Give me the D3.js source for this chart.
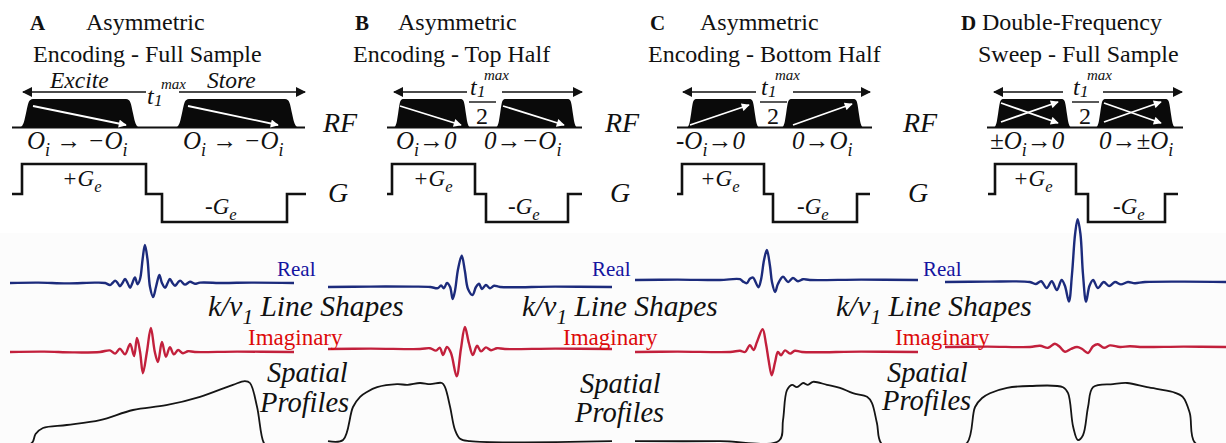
<!DOCTYPE html>
<html>
<head>
<meta charset="utf-8">
<script src="https://cdn.jsdelivr.net/npm/d3@7"></script>
<style>
  body { margin: 0; background: #fff; }
  svg { display: block; }
  svg text { font-family: 'Liberation Serif', 'Tinos', 'DejaVu Serif', serif; fill: #111; }
</style>
</head>
<body>
<svg id="fig" width="1226" height="443"></svg>
<script>
// ---------- values ----------
const panelIds = ["A", "B", "C", "D"];
const titleLine1 = ["Asymmetric", "Asymmetric", "Asymmetric", "Double-Frequency"];
const titleLine2 = ["Encoding - Full Sample", "Encoding - Top Half", "Encoding - Bottom Half", "Sweep - Full Sample"];
const pulseLabels = [
  ["O_i \u2192 \u2212O_i", "O_i \u2192 \u2212O_i"],
  ["O_i\u21920", "0\u2192\u2212O_i"],
  ["-O_i\u21920", "0\u2192O_i"],
  ["\u00b1O_i\u21920", "0\u2192\u00b1O_i"]
];
const gradLevels = [0, 1, 0, -1, 0];

// line shapes: [k (% of trace width), amplitude]
const realA = [[0,0],[10,0.01],[20,-0.01],[30,0.01],[33.5,0],[35.2,-0.05],[36.1,0],[37,0.06],[37.9,0],[38.7,-0.08],[39.6,0],[40.5,0.1],[41.4,0],[42.3,-0.12],[43.1,0],[44,0.14],[44.9,-0.03],[45.8,0.1],[46.7,0.6],[47.5,0.95],[48.4,0.6],[49.3,-0.1],[50.4,-0.35],[51.4,-0.1],[52.6,0.2],[53.5,0],[54.6,-0.12],[55.5,0],[56.3,0.1],[57.2,0],[58.1,-0.07],[59,0],[59.9,0.06],[61.6,-0.04],[63.4,0.03],[65.1,-0.02],[66.9,0.01],[75,0],[85,0.01],[100,0]];
const imagA = [[0,0],[12,0.01],[22,-0.01],[31.7,0],[35.2,0.04],[37,-0.04],[38.7,0.08],[40.5,-0.06],[42.3,0.2],[43.7,-0.1],[44.7,0.35],[45.8,0],[46.8,-0.53],[48.2,0],[49.6,0.6],[51,0],[52.1,-0.25],[53.5,0.25],[54.9,-0.12],[56.3,0.12],[57.7,-0.06],[59.2,0.05],[60.9,-0.03],[62.7,0.02],[65.1,0],[80,0.01],[100,0]];
const realB = [[0,0],[15,0.01],[30,0.01],[36,0],[38.7,-0.03],[39.8,0.04],[40.8,-0.03],[41.9,0.1],[43,0],[43.9,-0.3],[44.7,-0.1],[45.8,0.45],[47.1,0.78],[48.2,0.4],[49.3,-0.05],[50.9,-0.2],[52.1,0],[53.2,0.08],[54.2,-0.05],[55.6,0.05],[57,-0.03],[58.5,0.03],[60.6,0],[80,0.01],[100,0]];
const imagB = [[0,0],[15,0.01],[32.4,0],[35.9,0.02],[38,-0.04],[39.4,0.03],[40.5,-0.15],[41.9,0.05],[43.3,-0.1],[45.3,-0.68],[46.8,0],[48.2,0.55],[49.6,0.15],[51,-0.15],[52.5,0.08],[53.9,-0.06],[55.6,0.04],[57.4,-0.03],[59.5,0.02],[62.3,0],[80,0.01],[100,0]];
const realC = [[0,0],[15,0.01],[30,0],[37.1,0.02],[38.2,-0.04],[39.5,-0.08],[40.6,0.03],[41.7,0.06],[43.6,-0.18],[44.5,0],[45.6,0.5],[46.6,0.75],[47.7,0.35],[48.4,-0.05],[49.5,-0.3],[50.5,-0.1],[52.3,0.08],[54.1,-0.05],[55.8,0.05],[57.6,-0.03],[59.4,0.02],[61.8,0],[80,0.01],[100,0]];
const imagC = [[0,0],[15,0.01],[33.6,0],[37.1,0.03],[38.9,0],[40.6,0.17],[41.9,0.05],[43.1,0.25],[45.1,0.57],[46.3,0.2],[47.2,-0.2],[48.3,-0.58],[49.5,-0.25],[50.5,0],[51.6,-0.08],[53,0.04],[54.8,-0.04],[56.5,0.03],[59,0],[80,0.01],[100,0]];
const realD = [[0,0],[15,0.01],[30.2,0],[32.4,-0.05],[34.2,0.02],[36.2,-0.15],[38,0.02],[39.8,-0.2],[41.5,0.05],[42.7,-0.1],[44.1,-0.49],[45.2,0.2],[46.3,1.2],[47.2,1.57],[48.2,1.2],[49.1,0.2],[50.2,-0.49],[51.4,-0.1],[52.7,0.05],[54.4,-0.15],[56.5,0],[58.4,-0.1],[60.5,0],[62.6,-0.06],[65.1,0],[67.6,-0.03],[71.2,0],[85,0.01],[100,0]];
const imagD = [[0,0],[15,0.01],[30.2,0],[33.8,0.03],[36.7,-0.02],[39.1,0.08],[40.9,0],[42.7,-0.12],[44.8,-0.05],[47,0],[48.8,-0.05],[50.9,-0.15],[52.7,0.02],[54.4,0.07],[56.6,-0.02],[58.7,0.04],[62.3,0],[65.8,0.02],[69.4,0],[85,0.01],[100,0]];

// spatial profiles: [position (% of trace width), relative intensity]
const profileA = [[0,-0.1],[7.7,0],[9,0.15],[11.6,0.25],[20,0.3],[31.7,0.38],[43.3,0.55],[55,0.63],[66.9,0.77],[78.5,0.97],[82.7,1.03],[84.5,1],[87,0.6],[89.4,0],[91,-0.05],[100,-0.05]];
const profileB = [[0,0.03],[5.3,0.05],[8.8,0.6],[11.3,0.77],[13.7,0.85],[17.3,0.93],[24.3,0.98],[28,0.97],[32.4,1],[36,0.98],[40.1,1],[41.2,0.93],[43,0.6],[44.7,0.22],[46.5,0.07],[50,0.03],[100,0.03]];
const profileC = [[0,0.03],[30,0.03],[50.9,0.04],[52.3,0.38],[53.7,0.88],[55.5,0.97],[57.2,0.93],[59.4,1],[61.1,0.97],[62.9,1.02],[67.8,0.97],[72.4,0.92],[77,0.83],[82,0.77],[83.7,0.67],[85.5,0.33],[87.3,-0.02],[100,-0.05]];
const profileD = [[0,-0.1],[7.8,0],[10.7,0.6],[13.2,0.75],[16,0.83],[22.1,0.92],[30.2,0.95],[42,0.93],[43.8,0.83],[45.6,0.27],[47.3,0.05],[49.1,0.13],[50.9,0.6],[52.7,0.93],[59.8,0.98],[64.8,1],[71.9,0.93],[81.1,0.85],[84.6,0.77],[87.1,0.5],[89,0],[100,-0.1]];

const realSeries = [realA, realB, realC, realD];
const imagSeries = [imagA, imagB, imagC, imagD];
const profileSeries = [profileA, profileB, profileC, profileD];

// ---------- layout ----------
const layout = [
  { idX: 30, t1X: 86, t2X: 33, arrow: [23, 305], gap: [146, 179], frac: false, tX: 147,
    pulses: [[20, 139], [176, 298]], ramp: 13, rf: [12, 305], grad: [12, 22, 146, 162, 287, 306],
    lab: [27, 183], plusG: 62, minusG: 205,
    arrows: [[[33,106],[126,125]], [[188,106],[278,125]]],
    trace: [10, 294], realBase: 283, imagBase: 352 },
  { idX: 355, t1X: 398, t2X: 353, arrow: [394, 582], gap: [467, 502], frac: true, tX: 482,
    pulses: [[394, 470], [496, 577]], ramp: 9, rf: [387, 582], grad: [387, 392, 475, 486, 568, 582],
    lab: [396, 484], plusG: 413, minusG: 508,
    arrows: [[[400,106],[461,125]], [[503,106],[564,125]]],
    trace: [328, 612], realBase: 287, imagBase: 349 },
  { idX: 650, t1X: 700, t2X: 648, arrow: [683, 870], gap: [756, 793], frac: true, tX: 773,
    pulses: [[687, 759], [782, 863]], ramp: 9, rf: [677, 872], grad: [677, 682, 764, 773, 857, 870],
    lab: [676, 792], plusG: 700, minusG: 797,
    arrows: [[[690,125],[749,105]], [[793,125],[852,104]]],
    trace: [635, 918], realBase: 280, imagBase: 352 },
  { idX: 961, t1X: 982, t2X: 978, arrow: [994, 1182], gap: [1063, 1103], frac: true, tX: 1085,
    pulses: [[994, 1071], [1096, 1175]], ramp: 9, rf: [987, 1183], grad: [988, 995, 1076, 1088, 1165, 1178],
    lab: [990, 1099], plusG: 1013, minusG: 1113,
    arrows: [[[1001,103],[1058,123]], [[1001,122],[1058,102]], [[1104,103],[1161,123]], [[1104,122],[1161,102]]],
    trace: [945, 1226], realBase: 282, imagBase: 347 }
];

const rfBase = 127.5, rfTop = 99;
const rampShape = [[0,0],[2,0.05],[4,0.2],[6,0.5],[8,0.82],[10,0.96],[13,1]];

const svg = d3.select("#fig");

// faint scan background of the lower half
svg.append("rect").attr("x", 0).attr("y", 233).attr("width", 1226).attr("height", 210).attr("fill", "#fcfcfc");

const defs = svg.append("defs");
[["blackHead", "#111"], ["whiteHead", "#fff"]].forEach(([id, c]) => {
  defs.append("marker")
      .attr("id", id)
      .attr("viewBox", "0 -5 10 10")
      .attr("refX", 9).attr("refY", 0)
      .attr("markerUnits", "userSpaceOnUse")
      .attr("markerWidth", id === "blackHead" ? 11 : 10)
      .attr("markerHeight", id === "blackHead" ? 10 : 8)
      .attr("orient", "auto")
    .append("path")
      .attr("d", "M0,-5L10,0L0,5Z")
      .attr("fill", c);
});

// text with _x subscripts
function rich(g, x, y, str, size, opts) {
  opts = opts || {};
  const t = g.append("text").attr("x", x).attr("y", y).attr("font-size", size);
  if (opts.italic) t.attr("font-style", "italic");
  if (opts.fill) t.style("fill", opts.fill);
  const parts = [];
  let buf = "";
  for (let i = 0; i < str.length; i++) {
    if (str[i] === "_") {
      if (buf) parts.push({ s: buf, sub: false });
      buf = "";
      parts.push({ s: str[i + 1], sub: true });
      i++;
    } else buf += str[i];
  }
  if (buf) parts.push({ s: buf, sub: false });
  let shift = 0;
  parts.forEach(p => {
    const dy = p.sub ? size * 0.28 : 0;
    const ts = t.append("tspan").text(p.s).attr("dy", dy - shift);
    if (p.sub) ts.attr("font-size", size * 0.72);
    shift = dy;
  });
  return t;
}

function t1max(g, x, y) {
  const t = g.append("text").attr("font-style", "italic");
  t.append("tspan").attr("x", x).attr("y", y).attr("font-size", 24).text("t");
  t.append("tspan").attr("x", x + 7).attr("y", y + 2).attr("font-size", 17).text("1");
  g.append("text").attr("font-style", "italic").attr("font-size", 15)
    .attr("x", x + 14).attr("y", y - 15).text("max");
}

const rampLine = d3.line().curve(d3.curveMonotoneX);

layout.forEach((L, i) => {
  const g = svg.append("g");

  // titles
  g.append("text").attr("x", L.idX).attr("y", 30).attr("font-size", 21).attr("font-weight", "bold").text(panelIds[i]);
  g.append("text").attr("x", L.t1X).attr("y", 30).attr("font-size", 24).text(titleLine1[i]);
  g.append("text").attr("x", L.t2X).attr("y", 62).attr("font-size", 24).text(titleLine2[i]);

  // t1 arrow
  g.append("line").attr("x1", L.gap[0]).attr("x2", L.arrow[0]).attr("y1", 92).attr("y2", 92)
    .attr("stroke", "#111").attr("stroke-width", 1.6).attr("marker-end", "url(#blackHead)");
  g.append("line").attr("x1", L.gap[1]).attr("x2", L.arrow[1]).attr("y1", 92).attr("y2", 92)
    .attr("stroke", "#111").attr("stroke-width", 1.6).attr("marker-end", "url(#blackHead)");
  if (L.frac) {
    t1max(g, L.tX - 12, 95);
    g.append("line").attr("x1", L.tX - 13).attr("x2", L.tX + 14).attr("y1", 102).attr("y2", 102)
      .attr("stroke", "#111").attr("stroke-width", 1.4);
    g.append("text").attr("x", L.tX).attr("y", 124).attr("font-size", 24).attr("text-anchor", "middle").text("2");
  } else {
    t1max(g, L.tX, 104);
    g.append("text").attr("x", 50).attr("y", 88).attr("font-size", 23.5).attr("font-style", "italic").text("Excite");
    g.append("text").attr("x", 207).attr("y", 88).attr("font-size", 23.5).attr("font-style", "italic").text("Store");
  }

  // RF baseline and pulses
  g.append("line").attr("x1", L.rf[0]).attr("x2", L.rf[1]).attr("y1", rfBase).attr("y2", rfBase)
    .attr("stroke", "#111").attr("stroke-width", 2.2);
  const h = d3.scaleLinear().domain([0, 1]).range([rfBase, rfTop]);
  const k = L.ramp / 13;
  L.pulses.forEach(([a, b]) => {
    const pts = rampShape.map(([dx, v]) => [a + dx * k, h(v)])
      .concat(rampShape.slice().reverse().map(([dx, v]) => [b - dx * k, h(v)]));
    g.append("path").attr("d", rampLine(pts) + "Z").attr("fill", "#0a0a0a");
  });
  L.arrows.forEach(([p, q]) => {
    g.append("line").attr("x1", p[0]).attr("y1", p[1]).attr("x2", q[0]).attr("y2", q[1])
      .attr("stroke", "#fff").attr("stroke-width", 1.8).attr("marker-end", "url(#whiteHead)");
  });
  pulseLabels[i].forEach((s, j) => rich(g, L.lab[j], 149, s, 25, { italic: true }));

  // gradient waveform
  const gy = d3.scaleLinear().domain([-1, 0, 1]).range([222, 194, 164]);
  const gx = L.grad;
  const gpts = [[gx[0], gy(gradLevels[0])]];
  gradLevels.forEach((lv, j) => {
    if (j === 0) return;
    gpts.push([gx[j], gy(gradLevels[j - 1])], [gx[j], gy(lv)]);
  });
  gpts.push([gx[5], gy(gradLevels[4])]);
  g.append("path").attr("d", d3.line()(gpts)).attr("fill", "none")
    .attr("stroke", "#111").attr("stroke-width", 2.6).attr("stroke-linejoin", "miter");
  rich(g, L.plusG, 186, "+G_e", 23, { italic: true });
  rich(g, L.minusG, 214, "-G_e", 23, { italic: true });

  // line shapes and spatial profile
  const x = d3.scaleLinear().domain([0, 100]).range(L.trace);
  const yr = d3.scaleLinear().domain([0, 1]).range([L.realBase, L.realBase - 40]);
  const yi = d3.scaleLinear().domain([0, 1]).range([L.imagBase, L.imagBase - 40]);
  const yp = d3.scaleLinear().domain([0, 1]).range([443, 383]);
  const curve = d3.curveCatmullRom.alpha(0.5);
  g.append("path").datum(realSeries[i])
    .attr("d", d3.line().x(d => x(d[0])).y(d => yr(d[1])).curve(curve))
    .attr("fill", "none").attr("stroke", "#1c2b7c").attr("stroke-width", 2.4);
  g.append("path").datum(imagSeries[i])
    .attr("d", d3.line().x(d => x(d[0])).y(d => yi(d[1])).curve(curve))
    .attr("fill", "none").attr("stroke", "#c2203c").attr("stroke-width", 2.4);
  g.append("path").datum(profileSeries[i])
    .attr("d", d3.line().x(d => x(d[0])).y(d => yp(d[1])).curve(curve))
    .attr("fill", "none").attr("stroke", "#151515").attr("stroke-width", 1.8);
});

// row labels and trace annotations
const rowLabelX = [323, 605, 903];
rowLabelX.forEach(x => {
  svg.append("text").attr("x", x).attr("y", 132).attr("font-size", 28).attr("font-style", "italic").text("RF");
  svg.append("text").attr("x", x + 5).attr("y", 202).attr("font-size", 28).attr("font-style", "italic").text("G");
});
const realLabelX = [277, 592, 923];
const imagLabelX = [248, 563, 895];
const shapesX = [208, 522, 836];
const spatialX = [[267, 260], [580, 575], [887, 882]];
const spatialY = [[382, 412], [393, 422], [382, 410]];
realLabelX.forEach(x => svg.append("text").attr("x", x).attr("y", 276).attr("font-size", 21).style("fill", "#1414a0").text("Real"));
imagLabelX.forEach(x => svg.append("text").attr("x", x).attr("y", 345).attr("font-size", 23).style("fill", "#dd0a0a").text("Imaginary"));
shapesX.forEach(x => rich(svg, x, 316, "k/\u03bd_1 Line Shapes", 29.5, { italic: true }));
spatialX.forEach(([a, b], j) => {
  svg.append("text").attr("x", a).attr("y", spatialY[j][0]).attr("font-size", 28.5).attr("font-style", "italic").text("Spatial");
  svg.append("text").attr("x", b).attr("y", spatialY[j][1]).attr("font-size", 28.5).attr("font-style", "italic").text("Profiles");
});
</script>
</body>
</html>
